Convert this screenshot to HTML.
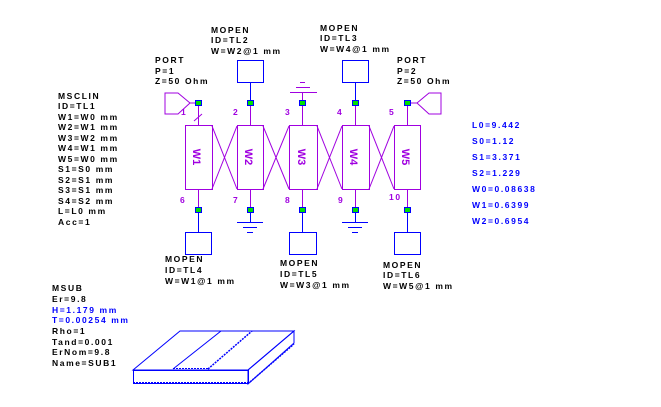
<!DOCTYPE html>
<html><head><style>
html,body{margin:0;padding:0;background:#fff;}
svg{display:block;}
text{font-family:"Liberation Sans",sans-serif;font-size:8.5px;letter-spacing:1.6px;font-weight:bold;}
.k{fill:#000}.b{fill:#0000ff}.p{fill:#a000e0;font-size:7px}
</style></head><body>
<svg width="661" height="407" viewBox="0 0 661 407" xmlns="http://www.w3.org/2000/svg">
<g stroke="#a000e0" stroke-width="1" fill="none">
<!-- coupled line boxes -->
<rect x="185.5" y="125.5" width="27" height="64"/>
<rect x="237.5" y="125.5" width="26" height="64"/>
<rect x="289.5" y="125.5" width="28" height="64"/>
<rect x="342.5" y="125.5" width="27" height="64"/>
<rect x="394.5" y="125.5" width="26" height="64"/>
<!-- X lines -->
<line x1="212" y1="126" x2="237" y2="189"/><line x1="212" y1="189" x2="237" y2="126"/>
<line x1="263" y1="126" x2="289" y2="189"/><line x1="263" y1="189" x2="289" y2="126"/>
<line x1="317" y1="126" x2="342" y2="189"/><line x1="317" y1="189" x2="342" y2="126"/>
<line x1="369" y1="126" x2="394" y2="189"/><line x1="369" y1="189" x2="394" y2="126"/>
<!-- vertical connectors -->
<line x1="198.5" y1="103" x2="198.5" y2="125"/><line x1="250.5" y1="103" x2="250.5" y2="125"/>
<line x1="302.5" y1="103" x2="302.5" y2="125"/><line x1="355.5" y1="103" x2="355.5" y2="125"/>
<line x1="407.5" y1="103" x2="407.5" y2="125"/>
<line x1="198.5" y1="190" x2="198.5" y2="210"/><line x1="250.5" y1="190" x2="250.5" y2="210"/>
<line x1="302.5" y1="190" x2="302.5" y2="210"/><line x1="355.5" y1="190" x2="355.5" y2="210"/>
<line x1="407.5" y1="190" x2="407.5" y2="210"/>
<!-- ports -->
<polyline points="190,103 178,93 165,93 165,114 178,114 190,103"/>
<line x1="190" y1="103" x2="198" y2="103"/>
<polyline points="417,103 429,93 441,93 441,114 429,114 417,103"/>
<line x1="407" y1="103" x2="417" y2="103"/>
<line x1="194" y1="121" x2="202" y2="114"/>
<!-- grounds -->
<line x1="302.5" y1="92" x2="302.5" y2="103"/>
<line x1="290" y1="92.5" x2="317" y2="92.5"/><line x1="296" y1="87.5" x2="310" y2="87.5"/><line x1="300" y1="82.5" x2="305" y2="82.5"/>
</g>
<g stroke="#0000ff" stroke-width="1" fill="none">
<rect x="237.5" y="60.5" width="26" height="22"/><line x1="250.5" y1="83" x2="250.5" y2="103"/>
<rect x="342.5" y="60.5" width="26" height="22"/><line x1="355.5" y1="83" x2="355.5" y2="103"/>
<rect x="185.5" y="232.5" width="26" height="22"/><line x1="198.5" y1="210" x2="198.5" y2="232"/>
<rect x="289.5" y="232.5" width="27" height="22"/><line x1="302.5" y1="210" x2="302.5" y2="232"/>
<rect x="394.5" y="232.5" width="26" height="22"/><line x1="407.5" y1="210" x2="407.5" y2="232"/>
<line x1="250.5" y1="210" x2="250.5" y2="222"/><line x1="237" y1="222.5" x2="263" y2="222.5"/><line x1="243" y1="227.5" x2="257" y2="227.5"/><line x1="247" y1="232.5" x2="253" y2="232.5"/>
<line x1="355.5" y1="210" x2="355.5" y2="222"/><line x1="342" y1="222.5" x2="368" y2="222.5"/><line x1="348" y1="227.5" x2="362" y2="227.5"/><line x1="352" y1="232.5" x2="358" y2="232.5"/>
<!-- substrate -->
<polygon points="133,370 180,331 294,331 248,370"/>
<rect x="133.5" y="370.5" width="115" height="13"/>
<polygon points="248,370 294,331 294,343 248,384"/>
<line x1="133" y1="382.5" x2="248" y2="382.5" stroke-dasharray="2,1"/>
<line x1="173" y1="369" x2="221" y2="331"/><line x1="208" y1="369" x2="252" y2="331" stroke-dasharray="2,1" stroke-width="1.5"/>
<line x1="173" y1="368.5" x2="208" y2="368.5" stroke-dasharray="2,1"/>
<line x1="250" y1="382" x2="294" y2="344" stroke-dasharray="2,1" stroke-width="1.5"/>
</g>
<g fill="#00e000" stroke="#0000ff" stroke-width="1">
<rect x="195.5" y="100.5" width="6" height="5"/><rect x="247.5" y="100.5" width="6" height="5"/>
<rect x="299.5" y="100.5" width="6" height="5"/><rect x="352.5" y="100.5" width="6" height="5"/>
<rect x="404.5" y="100.5" width="6" height="5"/>
<rect x="195.5" y="207.5" width="6" height="5"/><rect x="247.5" y="207.5" width="6" height="5"/>
<rect x="299.5" y="207.5" width="6" height="5"/><rect x="352.5" y="207.5" width="6" height="5"/>
<rect x="404.5" y="207.5" width="6" height="5"/>
</g>
<g class="p">
<text x="181" y="115">1</text><text x="233" y="115">2</text><text x="285" y="115">3</text><text x="337" y="115">4</text><text x="389" y="115">5</text>
<text x="180" y="203">6</text><text x="233" y="203">7</text><text x="285" y="203">8</text><text x="338" y="203">9</text><text x="389" y="200">10</text>
</g>
<g fill="#a000e0" font-size="11px">
<text transform="translate(193,157) rotate(90)" class="p" style="font-size:11px;letter-spacing:0" text-anchor="middle">W1</text>
<text transform="translate(245,157) rotate(90)" class="p" style="font-size:11px;letter-spacing:0" text-anchor="middle">W2</text>
<text transform="translate(298,157) rotate(90)" class="p" style="font-size:11px;letter-spacing:0" text-anchor="middle">W3</text>
<text transform="translate(350,157) rotate(90)" class="p" style="font-size:11px;letter-spacing:0" text-anchor="middle">W4</text>
<text transform="translate(402,157) rotate(90)" class="p" style="font-size:11px;letter-spacing:0" text-anchor="middle">W5</text>
</g>
<g class="k">
<text x="211" y="33">MOPEN</text><text x="211" y="43">ID=TL2</text><text x="211" y="54">W=W2@1 mm</text>
<text x="320" y="31">MOPEN</text><text x="320" y="41">ID=TL3</text><text x="320" y="52">W=W4@1 mm</text>
<text x="155" y="63">PORT</text><text x="155" y="74">P=1</text><text x="155" y="84">Z=50 Ohm</text>
<text x="397" y="63">PORT</text><text x="397" y="74">P=2</text><text x="397" y="84">Z=50 Ohm</text>
<text x="165" y="262">MOPEN</text><text x="165" y="273">ID=TL4</text><text x="165" y="284">W=W1@1 mm</text>
<text x="280" y="266">MOPEN</text><text x="280" y="277">ID=TL5</text><text x="280" y="288">W=W3@1 mm</text>
<text x="383" y="268">MOPEN</text><text x="383" y="278">ID=TL6</text><text x="383" y="289">W=W5@1 mm</text>
<text x="58" y="99">MSCLIN</text><text x="58" y="109">ID=TL1</text><text x="58" y="120">W1=W0 mm</text>
<text x="58" y="130">W2=W1 mm</text><text x="58" y="141">W3=W2 mm</text><text x="58" y="151">W4=W1 mm</text>
<text x="58" y="162">W5=W0 mm</text><text x="58" y="172">S1=S0 mm</text><text x="58" y="183">S2=S1 mm</text>
<text x="58" y="193">S3=S1 mm</text><text x="58" y="204">S4=S2 mm</text><text x="58" y="214">L=L0 mm</text>
<text x="58" y="225">Acc=1</text>
<text x="52" y="291">MSUB</text><text x="52" y="302">Er=9.8</text>
<text x="52" y="334">Rho=1</text><text x="52" y="345">Tand=0.001</text><text x="52" y="355">ErNom=9.8</text><text x="52" y="366">Name=SUB1</text>
</g>
<g class="b">
<text x="52" y="313">H=1.179 mm</text><text x="52" y="323">T=0.00254 mm</text>
<text x="472" y="128">L0=9.442</text><text x="472" y="144">S0=1.12</text><text x="472" y="160">S1=3.371</text>
<text x="472" y="176">S2=1.229</text><text x="472" y="192">W0=0.08638</text><text x="472" y="208">W1=0.6399</text>
<text x="472" y="224">W2=0.6954</text>
</g>
</svg>
</body></html>
